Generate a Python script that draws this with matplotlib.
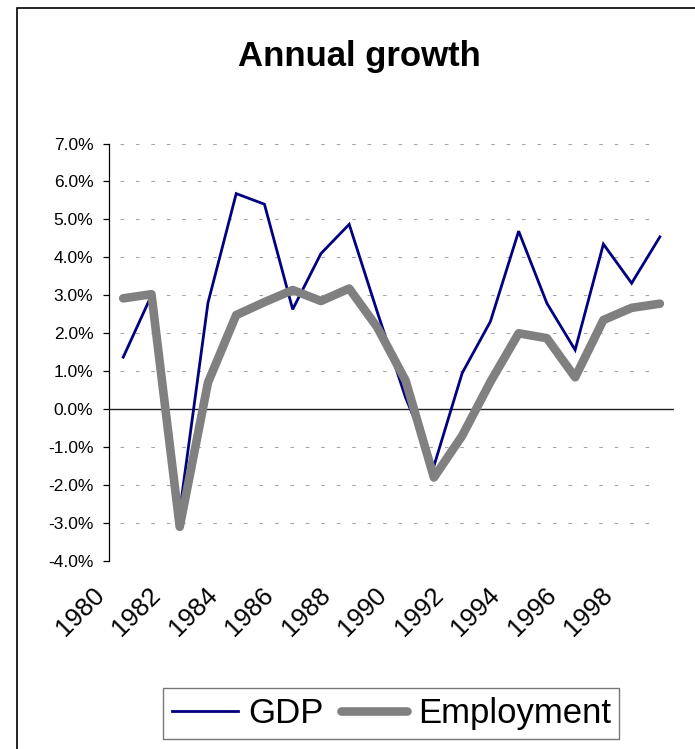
import matplotlib
matplotlib.use("Agg")
import matplotlib.pyplot as plt
from matplotlib.patches import Rectangle
from matplotlib.ticker import FuncFormatter

plt.rcParams["font.family"] = ["Liberation Sans", "DejaVu Sans"]

years = list(range(1980, 2000))
gdp = [1.37, 3.0, -2.7, 2.8, 5.68, 5.40, 2.63, 4.10, 4.87, 2.55,
       0.3, -1.5, 0.95, 2.31, 4.69, 2.79, 1.56, 4.35, 3.32, 4.54]
employment = [2.92, 3.03, -3.1, 0.7, 2.48, 2.82, 3.14, 2.85, 3.18, 2.15,
              0.75, -1.8, -0.7, 0.72, 2.0, 1.87, 0.84, 2.35, 2.67, 2.78]
year_labels = [str(y) for y in range(1980, 2000, 2)]
y_ticks = list(range(-4, 8))

W, H = 695, 749
fig = plt.figure(figsize=(W / 100, H / 100), dpi=100)
ax = fig.add_axes([109.1 / W, 1 - 561 / H, (674 - 109.1) / W, (561 - 143.5) / H])

# chart area border (only left and top edges fall inside the image)
fig.patches.append(Rectangle((17 / W, -0.1), 1.2, 1.1 - 8.5 / H,
                             transform=fig.transFigure, fill=False,
                             edgecolor="black", linewidth=1.2))

# dashed gridlines stop at the last category
ax.hlines([t for t in y_ticks if t != 0], years[0] - 0.5, years[-1],
          colors="#a6a6a6", linewidth=0.8, linestyles=(4, (3.2, 10.7)), zorder=1)
ax.axhline(0, color="#222222", linewidth=1.0, zorder=2)

ax.plot(years, gdp, color="#000080", linewidth=2.0, label="GDP",
        solid_joinstyle="miter", zorder=3)
ax.plot(years, employment, color="#808080", linewidth=6.2, label="Employment",
        solid_capstyle="round", solid_joinstyle="round", zorder=4)

ax.set_xlim(years[0] - 0.5, years[-1] + 0.5)
ax.set_ylim(-4, 7)
ax.set_yticks(y_ticks)
ax.yaxis.set_major_formatter(FuncFormatter(lambda v, p: f"{v:.1f}%"))
ax.tick_params(axis="y", length=4.3, width=0.9, pad=7, labelsize=12.5)

# year labels sit on category boundaries
ax.set_xticks([y - 0.5 for y in range(1980, 2000, 2)])
ax.set_xticklabels(year_labels, rotation=45, ha="right", va="top", fontsize=18.5)
ax.tick_params(axis="x", length=0, pad=16)

for s in ["top", "right", "bottom"]:
    ax.spines[s].set_visible(False)
ax.spines["left"].set_linewidth(0.9)

fig.text(359 / W, 1 - 66 / H, "Annual growth", ha="center", va="baseline",
         fontsize=25, fontweight="bold")

leg = fig.legend(loc="center", bbox_to_anchor=(391.4 / W, 1 - 713.4 / H),
                 ncol=2, fontsize=25, frameon=True, fancybox=False,
                 handlelength=1.9, handletextpad=0.3, columnspacing=0.5,
                 borderpad=0.25, borderaxespad=0)
leg.get_frame().set_edgecolor("#555555")
leg.get_frame().set_linewidth(1.0)

fig.savefig("out.png", dpi=100)
